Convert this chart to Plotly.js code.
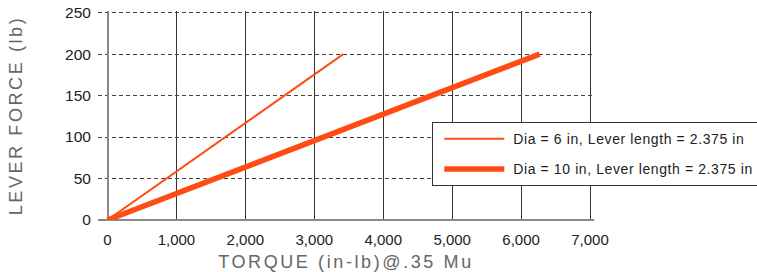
<!DOCTYPE html>
<html><head><meta charset="utf-8">
<script src="https://cdn.plot.ly/plotly-3.0.1.min.js"></script>
<style>
html,body{margin:0;padding:0;background:#fff}
#chart{width:757px;height:272px}
.xtitle,.ytitle{letter-spacing:2.6px}
.legendtext{letter-spacing:0.6px}
</style></head><body><div id="chart"></div>
<script>
const seriesNames = ['Dia = 6 in, Lever length = 2.375 in', 'Dia = 10 in, Lever length = 2.375 in'];
const torqueDia6 = [0, 3420];
const forceDia6 = [0, 200];
const torqueDia10 = [0, 6270];
const forceDia10 = [0, 200];
const xTickVals = [0, 1000, 2000, 3000, 4000, 5000, 6000, 7000];
const xTickText = ['0', '1,000', '2,000', '3,000', '4,000', '5,000', '6,000', '7,000'];
const yTickVals = [0, 50, 100, 150, 200, 250];
const yTickText = ['0', '50', '100', '150', '200', '250'];

const lineColor = '#FF4B14';
const traces = [
  {x: torqueDia6, y: forceDia6, name: seriesNames[0], mode: 'lines', legendgroup: 'a',
   line: {color: lineColor, width: 2}},
  {x: torqueDia10, y: forceDia10, name: seriesNames[1], mode: 'lines', legendgroup: 'b',
   line: {color: lineColor, width: 5.5}}
];
const font = 'Liberation Sans, Arial, sans-serif';
const layout = {
  width: 757, height: 272,
  margin: {l: 98, r: 163, t: 11, b: 52, autoexpand: false},
  paper_bgcolor: '#fff', plot_bgcolor: '#fff',
  font: {family: font, size: 15, color: '#222'},
  showlegend: true,
  legend: {x: 0.674, y: 0.468, xanchor: 'left', yanchor: 'top', bgcolor: '#fff',
    bordercolor: '#333', borderwidth: 1, font: {size: 14, color: '#222'},
    tracegroupgap: 9, itemwidth: 70, traceorder: 'grouped'},
  xaxis: {range: [-138, 7058], tickvals: xTickVals, ticktext: xTickText,
    showgrid: true, gridcolor: '#333', gridwidth: 1,
    zeroline: true, zerolinecolor: '#888', zerolinewidth: 2,
    showline: false, ticks: 'outside', ticklen: 6, tickcolor: 'rgba(0,0,0,0)',
    tickfont: {size: 15, color: '#222'},
    title: {text: 'TORQUE (in-lb)@.35 Mu', font: {size: 18, color: '#666'}, standoff: 8}},
  yaxis: {range: [0, 252], tickvals: yTickVals, ticktext: yTickText,
    showgrid: true, gridcolor: '#444', gridwidth: 1, griddash: '4px,3px',
    zeroline: true, zerolinecolor: '#888', zerolinewidth: 2,
    showline: false, ticks: 'outside', ticklen: 3, tickcolor: 'rgba(0,0,0,0)',
    tickfont: {size: 15.5, color: '#222'},
    title: {text: 'LEVER FORCE (lb)', font: {size: 18, color: '#666'}, standoff: 37}}
};
Plotly.newPlot('chart', traces, layout, {displayModeBar: false, staticPlot: true}).then(gd => {
  // widen the legend line samples to match the reference
  gd.querySelectorAll('.legend .legendlines path').forEach(p => p.setAttribute('d', 'M11,0h60'));
});
</script></body></html>
